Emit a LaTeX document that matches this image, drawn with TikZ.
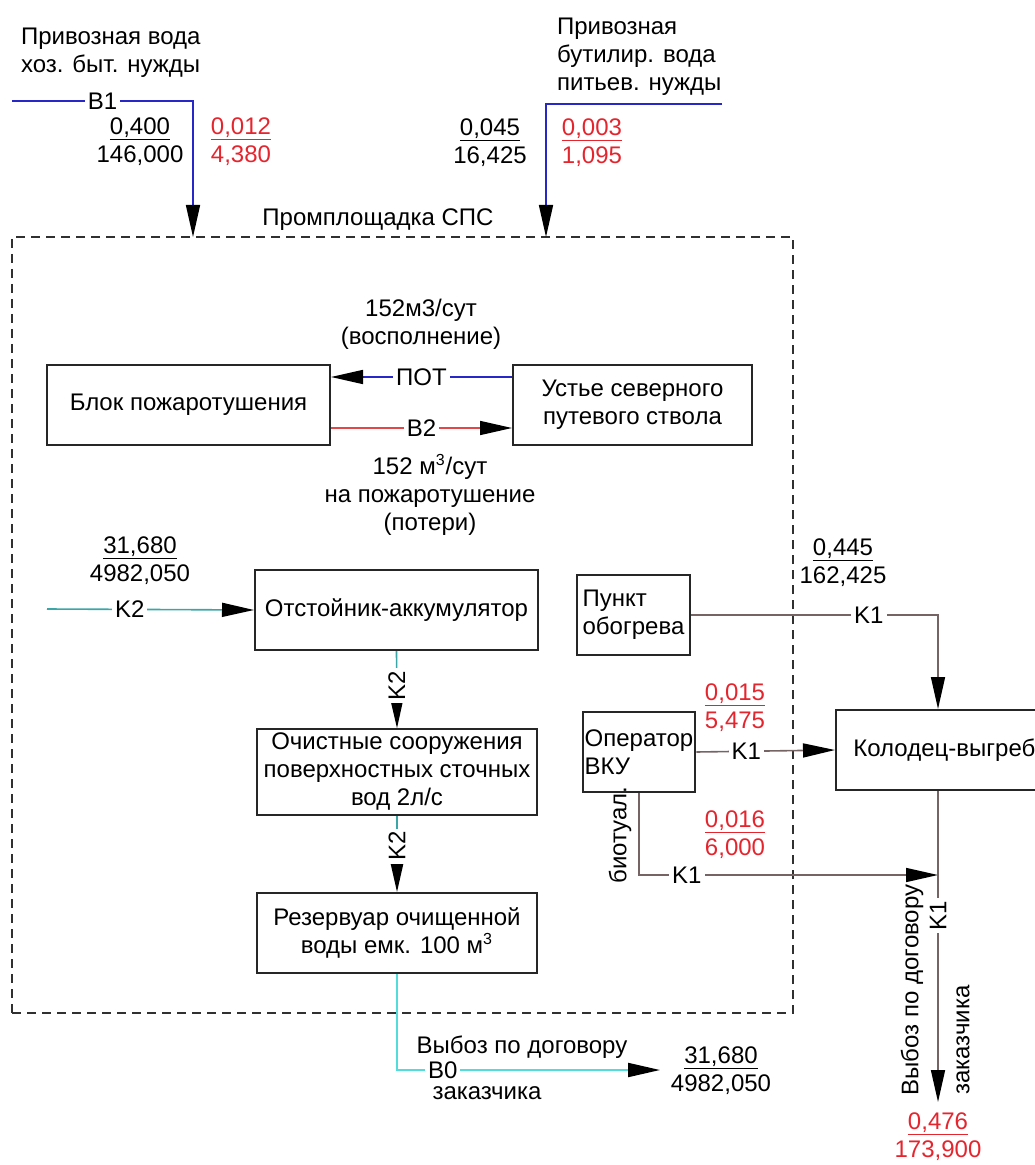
\documentclass[tikz,border=0pt]{standalone}
\usepackage{fontspec}
\setmainfont{Liberation Sans}
\usepackage{tikz}
\usetikzlibrary{arrows.meta, positioning, calc}
\definecolor{pipeB}{HTML}{2828C8}
\definecolor{pipeR}{HTML}{E2474A}
\definecolor{pipeK}{HTML}{3AA6A6}
\definecolor{pipeO}{HTML}{52DCDC}
\definecolor{pipeS}{HTML}{766464}
\definecolor{flowRed}{HTML}{E5252E}
\definecolor{siteGray}{HTML}{303030}
% upper figure of a flow value, underlined
\newcommand{\topnum}[1]{\setbox0\hbox{#1}\rlap{\rule[-2.5pt]{\wd0}{0.6pt}}\box0}

\begin{document}
\begin{tikzpicture}[
  x=0.5pt, y=-0.5pt,
  font=\fontsize{12}{14}\selectfont,
  unit/.style={draw=black!85, line width=1pt, minimum height=40pt, inner sep=2pt, align=center},
  site/.style={draw=siteGray, line width=0.8pt, dash pattern=on 4.5pt off 3pt, inner sep=0pt,
               minimum width=390.5pt, minimum height=388pt},
  lab/.style={fill=white, inner sep=1.5pt},
  val/.style={align=center, inner sep=1pt},
  redval/.style={val, text=flowRed},
  tip/.style={-{Triangle[length=16pt,width=7pt,black]}},
  b1/.style={tip, line width=0.8pt, draw=pipeB},
  b2/.style={tip, line width=0.8pt, draw=pipeR},
  k2/.style={tip, line width=0.8pt, draw=pipeK},
  b0/.style={tip, line width=1pt, draw=pipeO},
  k1/.style={tip, line width=0.8pt, draw=pipeS}
]
\useasboundingbox (0,0) rectangle (1034,1165);

% site boundary
\node[site] (site) at (402.5,625) {};
\node (siteT) at (378,220) {Промплощадка СПС};

% inlets
\node[anchor=west, align=left] (srcA) at (14,53) {Привозная вода\\хоз. быт. нужды};
\node[anchor=west, align=left] (srcB) at (550,57) {Привозная\\бутилир. вода\\питьев. нужды};
\coordinate (b1a) at (12,101);
\coordinate (b1end) at (193,237);
\coordinate (b1b) at (722,104);
\coordinate (b1bend) at (546,237);
\draw[b1] (b1a) -| node[lab, pos=0.25] {B1} (b1end);
\draw[b1] (b1b) -| (b1bend);
\node[val] (qA) at (140,142) {\topnum{0,400}\\146,000};
\node[redval] (qAr) at (241,142) {\topnum{0,012}\\4,380};
\node[val] (qB) at (490,143) {\topnum{0,045}\\16,425};
\node[redval] (qBr) at (592,143) {\topnum{0,003}\\1,095};

% fire block
\node[unit, minimum width=141.5pt] (fire) at (188.5,405) {Блок пожаротушения};
\node[unit, minimum width=119.5pt] (shaft) at (632.5,405) {Устье северного\\путевого ствола};
\draw[b1] ([yshift=14pt]shaft.west) -- node[lab] {ПОТ} ([yshift=14pt]fire.east);
\draw[b2] ([yshift=-11.5pt]fire.east) -- node[lab] {B2} ([yshift=-11.5pt]shaft.west);
\node[val] (refill) at (421,324) {152м3/сут\\(восполнение)};
\node[val] (loss) at (430,495) {152 м\textsuperscript{3}/сут\\на пожаротушение\\(потери)};

% storm water line
\node[unit, minimum width=141.5pt] (settle) at (396.5,610) {Отстойник-аккумулятор};
\node[unit, minimum width=140pt] (treat) at (397,772) {Очистные сооружения\\поверхностных сточных\\вод 2л/с};
\node[unit, minimum width=140pt] (tank) at (397,933) {Резервуар очищенной\\воды емк. 100 м\textsuperscript{3}};
\coordinate (k2a) at (47,609);
\draw[k2] (k2a) -- node[lab, pos=0.4] {K2} (settle.west);
\node[val] (qK2) at (140,561) {\topnum{31,680}\\4982,050};
\draw[k2] (settle.south) -- node[lab, rotate=90, pos=0.45] {K2} (treat.north);
\draw[k2] (treat.south) -- node[lab, rotate=90, pos=0.4] {K2} (tank.north);
\coordinate (b0end) at (660,1070);
\draw[b0] (tank.south) |- node[lab, pos=0.587] {B0} (b0end);
\node (b0top) at (522,1047) {Выбоз по договору};
\node (b0bot) at (487,1093) {заказчика};
\node[val] (qB0) at (721,1071) {\topnum{31,680}\\4982,050};

% domestic sewage
\node[unit, minimum width=56.5pt, align=left] (heat) at (633.5,615) {Пункт\\обогрева};
\node[unit, minimum width=56pt, align=left, inner sep=1pt] (op) at (639,752) {Оператор\\ВКУ};
\node[unit, minimum width=120pt] (well) at (956,750) {};
\node[anchor=west, inner sep=0pt] (wellT) at (853,750) {Колодец-выгреб};
\draw[k1] (heat.east) -| node[lab, pos=0.36] {K1} ([xshift=-9pt]well.north);
\node[val] (qHeat) at (843,563) {\topnum{0,445}\\162,425};
\draw[k1] (op.east) -- node[lab, pos=0.36] {K1} (well.west);
\node[redval] (qOp) at (735,708) {\topnum{0,015}\\5,475};
\coordinate (opk) at (938,875);
\draw[k1] (op.south) |- node[lab, pos=0.58] {K1} (opk);
\node[rotate=90] (bio) at (620,835) {биотуал.};
\node[redval] (qBio) at (735,835) {\topnum{0,016}\\6,000};
\coordinate (k1out) at (938,1102);
\draw[k1] ([xshift=-9pt]well.south) -- node[lab, rotate=90, pos=0.4] {K1} (k1out);
\node[rotate=90] (outL) at (912,990) {Выбоз по договору};
\node[rotate=90] (outR) at (963,1040) {заказчика};
\node[redval] (qOut) at (938,1137) {\topnum{0,476}\\173,900};
\end{tikzpicture}
\end{document}
